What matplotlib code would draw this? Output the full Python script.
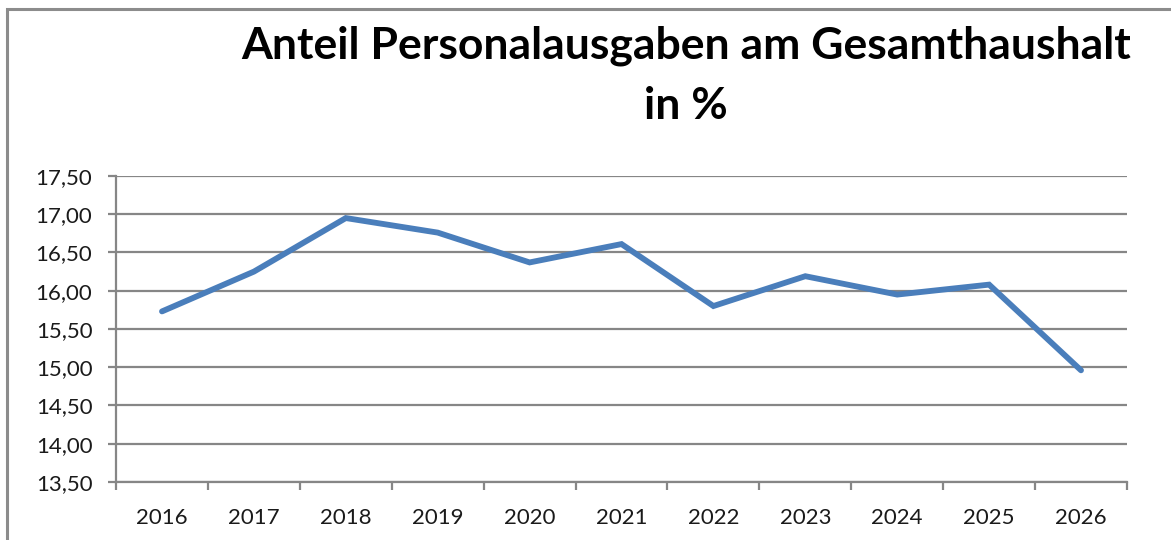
import matplotlib
matplotlib.use("Agg")
import matplotlib.pyplot as plt
from matplotlib.patches import Rectangle

# --- Data ---------------------------------------------------------------------

years = ["2016", "2017", "2018", "2019", "2020", "2021",
         "2022", "2023", "2024", "2025", "2026"]
share = [15.73, 16.25, 16.95, 16.76, 16.37, 16.61,
         15.80, 16.19, 15.95, 16.08, 14.96]
y_ticks = [13.5, 14.0, 14.5, 15.0, 15.5, 16.0, 16.5, 17.0, 17.5]

title = "Anteil Personalausgaben am Gesamthaushalt\nin %"

# --- Figure -------------------------------------------------------------------

plt.rcParams['font.family'] = ['Lato', 'DejaVu Sans']
grey = '#868686'

fig = plt.figure(figsize=(11.71, 5.40), dpi=100)
ax = fig.add_axes([0.0991, 0.1074, 0.8633, 0.5667])

x = list(range(len(years)))
ax.plot(x, share, color='#4a7ebb', lw=4.2, solid_capstyle='round',
        solid_joinstyle='miter', zorder=3)

ax.set_xlim(-0.5, len(years) - 0.5)
ax.set_ylim(y_ticks[0], y_ticks[-1])

# category labels at centres, tick marks between categories
ax.set_xticks([i - 0.5 for i in range(len(years) + 1)])
ax.set_xticklabels([])
ax.set_xticks(x, minor=True)
ax.set_xticklabels(years, minor=True, fontsize=16, color='#1a1a1a')
ax.tick_params(axis='x', which='major', direction='out', length=6,
               width=1.6, color=grey)
ax.tick_params(axis='x', which='minor', length=0, pad=19)

ax.set_yticks(y_ticks)
ax.set_yticklabels([f"{v:.2f}".replace('.', ',') for v in y_ticks],
                   fontsize=16, color='#1a1a1a')
ax.tick_params(axis='y', direction='out', length=6, width=1.6, color=grey, pad=11)

ax.yaxis.grid(True, color=grey, lw=1.6)
ax.set_axisbelow(True)
for s in ['top', 'right']:
    ax.spines[s].set_visible(False)
for s in ['left', 'bottom']:
    ax.spines[s].set_color(grey)
    ax.spines[s].set_linewidth(1.6)

fig.text(0.586, 0.952, title, ha='center', va='top', fontsize=32,
         fontweight='bold', linespacing=1.6, color='black')

# outer chart frame (runs off the right and bottom edge)
fig.patches.append(Rectangle((0.006, -0.2), 1.2, 1.183, transform=fig.transFigure,
                             fill=False, edgecolor='#8c8c8c', lw=2.2))

fig.savefig("out.png", dpi=100)
